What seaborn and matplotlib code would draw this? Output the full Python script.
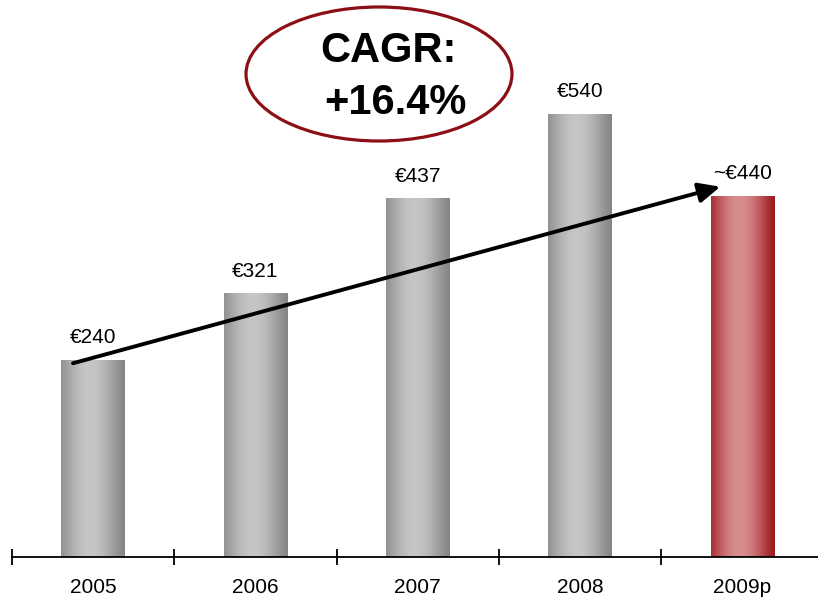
import numpy as np
import matplotlib
matplotlib.use("Agg")
import matplotlib.pyplot as plt
from matplotlib.patches import Ellipse
from matplotlib.colors import to_rgb
import seaborn as sns

# ---- data ----
years = ["2005", "2006", "2007", "2008", "2009p"]
values = [240, 321, 437, 540, 440]
value_labels = ["€240", "€321", "€437", "€540", "~€440"]
cagr_lines = ["CAGR:", "+16.4%"]
arrow_start = (-0.124, 236)
arrow_end = (3.865, 451)

# ---- style ----
edge_colors = ["#858585", "#858585", "#858585", "#858585", "#9c1a1e"]
light_colors = ["#c6c6c6", "#c6c6c6", "#c6c6c6", "#c6c6c6", "#d98d8f"]

sns.set_style("white")
plt.rcParams["font.family"] = ["Liberation Sans", "DejaVu Sans"]

W, H = 818, 603
fig = plt.figure(figsize=(W / 100, H / 100), dpi=100)
ax_left = 12 / W
ax_bottom = 1 - 557 / H
ax = fig.add_axes([ax_left, ax_bottom, (823.3 - 12) / W, 557 / H])

sns.barplot(x=years, y=values, hue=years, palette=edge_colors, legend=False,
            width=0.39, ax=ax, saturation=1, linewidth=0)

# gradient fill for each bar, clipped to the bar patch
t = np.linspace(0, 1, 200)
prof = np.clip(1 - np.abs(t - 0.45) / 0.55, 0, 1)
prof = np.sin(prof * np.pi / 2) ** 1.3
for patch, ec, lc in zip(ax.patches, edge_colors, light_colors):
    x0, y0 = patch.get_x(), patch.get_y()
    w, h = patch.get_width(), patch.get_height()
    c0 = np.array(to_rgb(ec))
    c1 = np.array(to_rgb(lc))
    img = c0[None, :] + (c1 - c0)[None, :] * prof[:, None]
    img = img[None, :, :]
    im = ax.imshow(img, extent=[x0, x0 + w, y0, y0 + h], aspect="auto",
                   interpolation="bilinear", zorder=2)
    im.set_clip_path(patch)
ax.set_xlim(-0.5, 4.5)
ax.set_ylim(0, 557 / 0.821)
ax.set_aspect("auto")

# value labels
for i, (v, lab) in enumerate(zip(values, value_labels)):
    ax.annotate(lab, xy=(i, v), xytext=(0, 9), textcoords="offset points",
                ha="center", va="bottom", fontsize=15, color="black", zorder=5)

# axis
for s in ["top", "left", "right"]:
    ax.spines[s].set_visible(False)
ax.spines["bottom"].set_linewidth(1.3)
ax.spines["bottom"].set_color("black")
ax.set_yticks([])
ax.set_xticks(np.arange(-0.5, 5.0, 1.0))
ax.set_xticklabels([])
ax.tick_params(axis="x", which="major", bottom=True, direction="inout",
               length=11, width=1.3, color="black")
ax.set_xticks(range(len(years)), minor=True)
ax.set_xticklabels(years, minor=True, fontsize=15, color="black")
ax.tick_params(axis="x", which="minor", bottom=True, length=0, pad=15,
               labelcolor="black")
ax.set_xlabel("")
ax.set_ylabel("")

# arrow
ax.annotate("", xy=arrow_end, xytext=arrow_start,
            arrowprops=dict(arrowstyle="-|>,head_length=0.65,head_width=0.3",
                            lw=2.8, color="black", shrinkA=0, shrinkB=0,
                            mutation_scale=20), zorder=6)

# CAGR ellipse
ell = Ellipse((379 / W, 1 - 74 / H), 266 / W, 134 / H, transform=fig.transFigure,
              facecolor="white", edgecolor="#8b0f14", lw=2.3, zorder=10)
fig.patches.append(ell)
fig.text(388 / W, 1 - 51 / H, cagr_lines[0], ha="center", va="center",
         fontsize=30, fontweight="bold", color="black", zorder=11)
fig.text(395 / W, 1 - 103 / H, cagr_lines[1], ha="center", va="center",
         fontsize=30, fontweight="bold", color="black", zorder=11)

fig.savefig("out.png", dpi=100)
